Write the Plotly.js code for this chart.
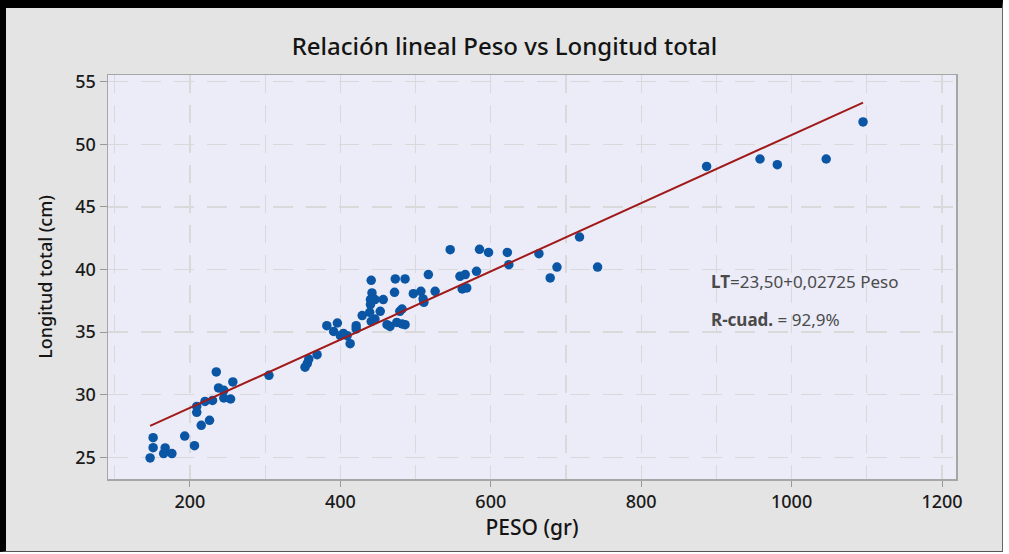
<!DOCTYPE html>
<html>
<head>
<meta charset="utf-8">
<script src="https://cdn.plot.ly/plotly-3.0.1.min.js"></script>
<style>
  html, body { margin: 0; padding: 0; background: #ffffff; }
  #wrap { position: relative; width: 1009px; height: 554px; overflow: hidden; }
  #chart { position: absolute; left: 0; top: 0; width: 1009px; height: 554px; }
  #frame { position: absolute; left: 0; top: 0; width: 1003px; height: 552px; box-sizing: border-box;
           border-top: 8px solid #000; border-left: 6px solid #000; border-right: 1px solid #666; border-bottom: 1px solid #555;
           pointer-events: none; }
  #rstrip { position: absolute; left: 1003px; top: 0; width: 6px; height: 554px; background: #fff; }
  #bstrip { position: absolute; left: 0; top: 552px; width: 1009px; height: 2px; background: #fff; }
</style>
</head>
<body>
<div id="wrap">
  <div id="chart"></div>
  <div id="rstrip"></div>
  <div id="bstrip"></div>
  <div id="frame"></div>
</div>
<script>
// Observed data: PESO (gr) and Longitud total (cm)
const peso = [147, 151, 151, 165, 167, 176, 193, 206, 215, 226,
              209, 209, 220, 230, 245, 254, 238, 245, 257, 235,
              305, 353, 356, 358, 369, 382, 396, 391, 400, 409,
              404, 413, 421, 421, 429, 439, 441, 446, 453, 440,
              446, 457, 442, 440, 441, 472, 473, 486, 462, 466,
              475, 482, 486, 479, 482, 497, 507, 510, 511, 517,
              526, 546, 559, 566, 562, 568, 581, 585, 597, 622,
              624, 664, 688, 679, 718, 742, 887, 958, 981, 1046,
              1095];
const longitud = [24.95, 25.77, 26.57, 25.30, 25.75, 25.30, 26.70, 25.93, 27.56, 27.96,
                  28.60, 29.07, 29.47, 29.55, 29.74, 29.66, 30.54, 30.35, 31.02, 31.82,
                  31.55, 32.20, 32.50, 32.85, 33.20, 35.52, 35.73, 35.06, 34.72, 34.72,
                  34.90, 34.08, 35.52, 35.26, 36.32, 36.58, 35.86, 36.05, 36.66, 37.60,
                  37.60, 37.60, 38.13, 37.20, 39.14, 38.18, 39.25, 39.25, 35.60, 35.46,
                  35.78, 35.65, 35.60, 36.66, 36.85, 38.07, 38.26, 37.65, 37.38, 39.60,
                  38.26, 41.59, 39.46, 39.60, 38.45, 38.53, 39.86, 41.62, 41.37, 41.37,
                  40.39, 41.27, 40.20, 39.33, 42.60, 40.20, 48.24, 48.83, 48.38, 48.83,
                  51.79];

// Fitted line end points (LT = 23,50 + 0,02725 Peso)
const fitPeso = [147, 1095];
const fitLT = [27.51, 53.34];

const xTicks = [200, 400, 600, 800, 1000, 1200];
const xTickText = ['200', '400', '600', '800', '1000', '1200'];
const yTicks = [25, 30, 35, 40, 45, 50, 55];
const yTickText = ['25', '30', '35', '40', '45', '50', '55'];

const FONT = 'Noto Sans, Open Sans, DejaVu Sans, sans-serif';

const traces = [
  {
    x: peso, y: longitud, type: 'scatter', mode: 'markers',
    marker: { color: '#0a56a5', size: 9.5, line: { width: 0 } },
    hoverinfo: 'x+y', showlegend: false
  },
  {
    x: fitPeso, y: fitLT, type: 'scatter', mode: 'lines',
    line: { color: '#a11a1a', width: 2 },
    hoverinfo: 'skip', showlegend: false
  }
];

const layout = {
  width: 1009, height: 554,
  paper_bgcolor: '#e4e4e4',
  plot_bgcolor: '#ebecf8',
  margin: { l: 108, r: 53, t: 75, b: 75 },
  font: { family: FONT, color: '#1e1e1e' },
  title: {
    text: 'Relación lineal Peso vs Longitud total',
    font: { family: FONT, size: 24, color: '#141414', weight: 500 },
    x: 0.5, xanchor: 'center', xref: 'container',
    y: 1 - 47 / 554, yanchor: 'middle', yref: 'container'
  },
  xaxis: {
    range: [91, 1218.6],
    tickmode: 'array', tickvals: xTicks, ticktext: xTickText,
    tickfont: { family: FONT, size: 18, color: '#1a1a1a', weight: 500 },
    ticks: 'outside', ticklen: 6, tickcolor: '#999', tickwidth: 1,
    showline: true, linecolor: '#a6a6a6', linewidth: 1.5, mirror: true,
    showgrid: true, gridcolor: '#d9d9d9', griddash: '18px,12px', gridwidth: 1.3,
    minor: { dtick: 100, tick0: 0, showgrid: true, gridcolor: '#d9d9d9', griddash: '18px,12px', gridwidth: 1.3, ticks: '' },
    zeroline: false,
    title: { text: 'PESO (gr)', font: { family: FONT, size: 21, color: '#141414', weight: 500 }, standoff: 2 }
  },
  yaxis: {
    range: [23.27, 55.54],
    tickmode: 'array', tickvals: yTicks, ticktext: yTickText,
    tickfont: { family: FONT, size: 18, color: '#1a1a1a', weight: 500 },
    ticks: 'outside', ticklen: 7, tickcolor: '#999', tickwidth: 1,
    showline: true, linecolor: '#a6a6a6', linewidth: 1.5, mirror: true,
    showgrid: true, gridcolor: '#d9d9d9', griddash: '20px,13px', gridwidth: 1.3,
    zeroline: false,
    title: { text: 'Longitud total (cm)', font: { family: FONT, size: 18, color: '#141414', weight: 500 }, standoff: 18 }
  },
  annotations: [
    {
      xref: 'x', yref: 'y', x: 890, y: 39.06, xanchor: 'left', yanchor: 'middle',
      text: '<b>LT</b>=23,50+0,02725 Peso', showarrow: false,
      font: { family: FONT, size: 17, color: '#4a4a4a' }
    },
    {
      xref: 'x', yref: 'y', x: 890, y: 36.0, xanchor: 'left', yanchor: 'middle',
      text: '<b>R-cuad.</b> = 92,9%', showarrow: false,
      font: { family: FONT, size: 17, color: '#4a4a4a' }
    }
  ]
};

Plotly.newPlot('chart', traces, layout, { displayModeBar: false, staticPlot: true });
</script>
</body>
</html>
